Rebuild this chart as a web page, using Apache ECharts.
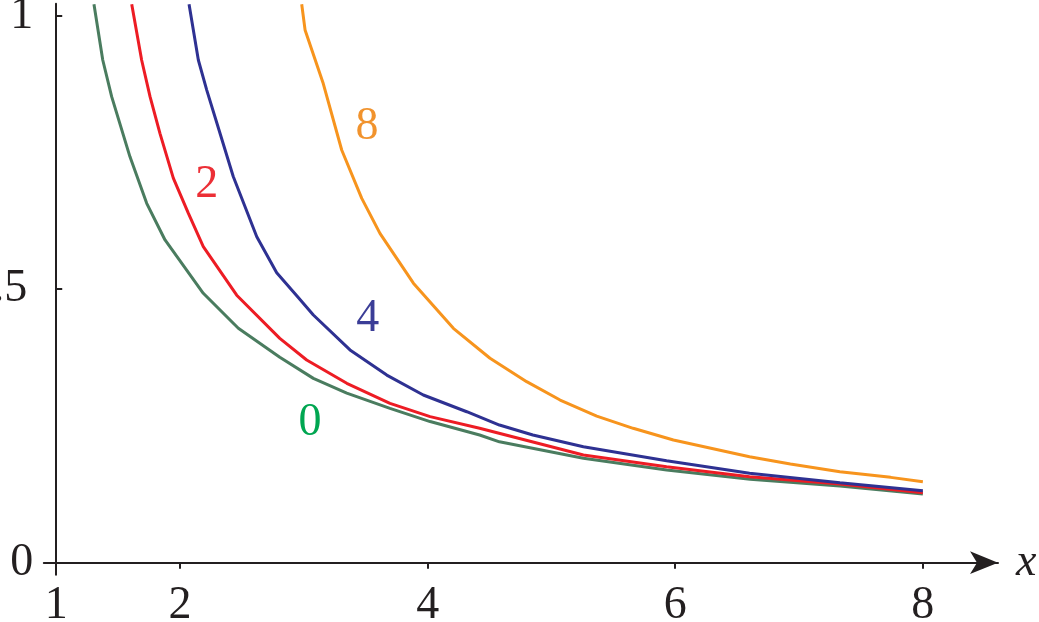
<!DOCTYPE html>
<html>
<head>
<meta charset="utf-8">
<script src="https://cdn.jsdelivr.net/npm/echarts@6/dist/echarts.min.js"></script>
<style>
html,body{margin:0;padding:0;background:#fff;}
#chart{width:1039px;height:622px;}
</style>
</head>
<body>
<div id="chart"></div>
<script>
// ---- data ----
const curveNames = ['0', '2', '4', '8'];

const x0 = [1.305, 1.376, 1.448, 1.596, 1.731, 1.879, 2.188, 2.471, 2.806, 3.077, 3.347, 3.696, 4.02, 4.42, 4.58, 5.258, 5.931, 6.605, 7.33, 8.0];
const y0 = [1.021, 0.919, 0.852, 0.742, 0.657, 0.590, 0.4925, 0.4285, 0.3755, 0.337, 0.31, 0.282, 0.258, 0.2335, 0.221, 0.1908, 0.1695, 0.1524, 0.140, 0.1256];

const x2 = [1.61, 1.69, 1.758, 1.838, 1.946, 2.067, 2.188, 2.458, 2.806, 3.023, 3.347, 3.696, 4.02, 4.42, 5.258, 5.93, 6.6, 7.33, 8.0];
const y2 = [1.021, 0.919, 0.852, 0.785, 0.703, 0.639, 0.578, 0.489, 0.41, 0.3706, 0.328, 0.2914, 0.267, 0.2457, 0.197, 0.1755, 0.157, 0.1439, 0.128];

const x4 = [2.073, 2.148, 2.216, 2.323, 2.43, 2.62, 2.781, 2.943, 3.077, 3.373, 3.67, 3.965, 4.316, 4.58, 4.85, 5.258, 5.93, 6.6, 7.33, 8.0];
const y4 = [1.021, 0.919, 0.864, 0.785, 0.706, 0.596, 0.53, 0.488, 0.4528, 0.389, 0.343, 0.3066, 0.276, 0.2517, 0.2335, 0.212, 0.1865, 0.1634, 0.146, 0.1316];

const x8 = [2.983, 3.01, 3.157, 3.306, 3.468, 3.615, 3.885, 4.208, 4.504, 4.80, 5.07, 5.366, 5.66, 5.985, 6.6, 6.93, 7.33, 7.74, 8.0];
const y8 = [1.021, 0.974, 0.876, 0.7545, 0.666, 0.602, 0.511, 0.4285, 0.3737, 0.331, 0.2974, 0.268, 0.2457, 0.2243, 0.1938, 0.1804, 0.1664, 0.156, 0.148];

const xTickLabels = [1, 2, 4, 6, 8];
const xTicks = [2, 4, 6, 8];
const yTickLabels = [0, 0.5, 1];
const yTicks = [0.5, 1];
const axisName = 'x';

// ---- chart ----
const serif = 'Liberation Serif';
const ink = '#231f20';
const zip = (xs, ys) => xs.map((v, i) => [v, ys[i]]);

const seriesDefs = [
  {name: curveNames[0], data: zip(x0, y0), line: '#4a7c5f', text: '#00a651', at: [3.05, 0.256]},
  {name: curveNames[1], data: zip(x2, y2), line: '#ed1c24', text: '#ec2f36', at: [2.216, 0.69]},
  {name: curveNames[2], data: zip(x4, y4), line: '#2e3192', text: '#3b3d97', at: [3.516, 0.446]},
  {name: curveNames[3], data: zip(x8, y8), line: '#f7941d', text: '#f1932d', at: [3.51, 0.796]}
];

const chart = echarts.init(document.getElementById('chart'), null, {renderer: 'canvas'});
chart.setOption({
  animation: false,
  backgroundColor: '#ffffff',
  textStyle: {fontFamily: serif},
  grid: {left: 43.82, width: 954.2, top: 3.67, height: 571.06, containLabel: false, outerBoundsMode: 'none'},
  xAxis: {
    type: 'value', min: 0.9, max: 8.607,
    splitLine: {show: false},
    axisLine: {show: true, onZero: true, lineStyle: {color: ink, width: 2},
      symbol: ['none', 'arrow'], symbolSize: [17, 28]},
    axisTick: {show: true, inside: false, length: 6, lineStyle: {color: ink, width: 2}, customValues: xTicks},
    axisLabel: {show: true, margin: 8, color: ink, fontSize: 46, fontFamily: serif, customValues: xTickLabels,
      formatter: v => String(v)},
    name: axisName, nameLocation: 'end', nameGap: 18,
    nameTextStyle: {fontStyle: 'italic', fontSize: 46, fontFamily: serif, color: ink, align: 'left', verticalAlign: 'middle'}
  },
  yAxis: {
    type: 'value', min: -0.022, max: 1.022, offset: -12.4,
    splitLine: {show: false},
    axisLine: {show: true, onZero: false, lineStyle: {color: ink, width: 2}},
    axisTick: {show: true, inside: true, length: 6, lineStyle: {color: ink, width: 2}, customValues: yTicks},
    axisLabel: {show: true, margin: 23, align: 'right', color: ink, fontSize: 46, fontFamily: serif, customValues: yTickLabels,
      formatter: v => (v === 0 ? '0' : v === 1 ? '1' : '{h|.5}'),
      rich: {h: {fontSize: 46, fontFamily: serif, color: ink, padding: [0, 6, 0, 0]}}}
  },
  series: seriesDefs.map(s => ({
    type: 'line', name: s.name, data: s.data, showSymbol: false, clip: false, smooth: false,
    lineStyle: {color: s.line, width: 3}, itemStyle: {color: s.line},
    markPoint: {
      symbol: 'circle', symbolSize: 0, silent: true,
      data: [{coord: s.at, value: s.name}],
      label: {show: true, position: 'inside', formatter: s.name, color: s.text, fontSize: 46, fontFamily: serif}
    }
  }))
});
</script>
</body>
</html>
